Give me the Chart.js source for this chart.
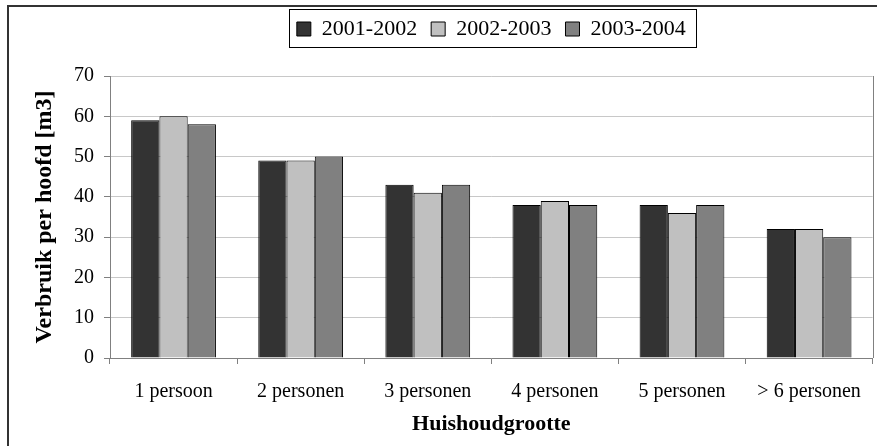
<!DOCTYPE html>
<html>
<head>
<meta charset="utf-8">
<script src="https://cdn.jsdelivr.net/npm/chart.js@4"></script>
<style>
  html, body { margin: 0; padding: 0; background: #fff; }
  canvas { display: block; }
</style>
</head>
<body>
<canvas id="chart" width="877" height="446"></canvas>
<script>
// Data
const categories = ['1 persoon', '2 personen', '3 personen', '4 personen', '5 personen', '> 6 personen'];
const seriesNames = ['2001-2002', '2002-2003', '2003-2004'];
const values0102 = [59, 49, 43, 38, 38, 32];
const values0203 = [60, 49, 41, 39, 36, 32];
const values0304 = [58, 50, 43, 38, 38, 30];
const yMin = 0;
const yMax = 70;
const yStep = 10;

const seriesColors = ['#333333', '#c0c0c0', '#808080'];
const serifFont = "'Liberation Serif', 'Times New Roman', serif";

// Frame, legend box and plot border, drawn around the library's output
const framePlugin = {
    id: 'frame',
    afterLayout(chart) {
        const legend = chart.legend;
        const area = chart.chartArea;
        // centre the legend over the plot area, not the whole canvas
        const dx = (area.left + area.right) / 2 - (legend.left + legend.right) / 2;
        legend.left += dx;
        legend.right += dx;
        legend.top = 4;
    },
    beforeDraw(chart) {
        const ctx = chart.ctx;
        ctx.save();
        ctx.fillStyle = '#ffffff';
        ctx.fillRect(0, 0, chart.width, chart.height);
        ctx.restore();
    },
    afterDraw(chart) {
        const ctx = chart.ctx;
        const area = chart.chartArea;
        const legend = chart.legend;
        const pad = legend.options.labels.padding;
        const fontSize = legend.options.labels.font.size;

        ctx.save();
        // outer frame (cut off at right and bottom)
        ctx.strokeStyle = '#333333';
        ctx.lineWidth = 2;
        ctx.strokeRect(8, 6, chart.width + 20, chart.height + 20);

        // right border of plot area
        ctx.strokeStyle = '#808080';
        ctx.lineWidth = 1;
        ctx.beginPath();
        ctx.moveTo(Math.round(area.right) + 0.5, area.top);
        ctx.lineTo(Math.round(area.right) + 0.5, area.bottom);
        ctx.stroke();

        // box around legend
        const itemsWidth = legend.lineWidths[0] - pad;
        const startX = (legend.left + pad + legend.right - legend.lineWidths[0]) / 2;
        const y0 = legend.top + pad;
        ctx.strokeStyle = '#000000';
        ctx.strokeRect(Math.round(startX - 8) + 0.5, Math.round(y0 - 9) + 0.5,
            Math.round(itemsWidth + 18), Math.round(fontSize + 16));
        ctx.restore();
    }
};

const ctx = document.getElementById('chart').getContext('2d');

new Chart(ctx, {
    type: 'bar',
    data: {
        labels: categories,
        datasets: [
            { label: seriesNames[0], data: values0102, backgroundColor: seriesColors[0], borderColor: '#000000', borderWidth: 1 },
            { label: seriesNames[1], data: values0203, backgroundColor: seriesColors[1], borderColor: '#000000', borderWidth: 1 },
            { label: seriesNames[2], data: values0304, backgroundColor: seriesColors[2], borderColor: '#000000', borderWidth: 1 }
        ]
    },
    plugins: [framePlugin],
    options: {
        responsive: false,
        animation: false,
        devicePixelRatio: 1,
        layout: {
            padding: { top: 30, right: 2, bottom: 0, left: 0 }
        },
        datasets: {
            bar: {
                barPercentage: 1,
                categoryPercentage: 0.667
            }
        },
        plugins: {
            tooltip: { enabled: false },
            legend: {
                position: 'top',
                labels: {
                    color: '#000000',
                    font: { family: serifFont, size: 22 },
                    boxWidth: 14,
                    boxHeight: 14,
                    padding: 14
                }
            }
        },
        scales: {
            x: {
                afterFit(scale) { scale.height = 88; },
                border: { color: '#808080', width: 1 },
                grid: {
                    offset: true,
                    drawOnChartArea: false,
                    drawTicks: true,
                    tickLength: 6,
                    tickColor: '#808080'
                },
                ticks: {
                    color: '#000000',
                    font: { family: serifFont, size: 20 },
                    padding: 16,
                    maxRotation: 0
                },
                title: {
                    display: true,
                    text: 'Huishoudgrootte',
                    color: '#000000',
                    font: { family: serifFont, size: 22, weight: 'bold' },
                    padding: { top: 0, bottom: 8 }
                }
            },
            y: {
                min: yMin,
                max: yMax,
                afterFit(scale) { scale.width = 110; },
                border: { color: '#808080', width: 1 },
                grid: {
                    color: '#c8c8c8',
                    drawTicks: true,
                    tickLength: 6,
                    tickColor: '#808080'
                },
                ticks: {
                    stepSize: yStep,
                    color: '#000000',
                    font: { family: serifFont, size: 20 },
                    padding: 10
                },
                title: {
                    display: true,
                    text: 'Verbruik per hoofd [m3]',
                    color: '#000000',
                    font: { family: serifFont, size: 24, weight: 'bold' },
                    padding: { top: 30, bottom: 0 }
                }
            }
        }
    }
});
</script>
</body>
</html>
